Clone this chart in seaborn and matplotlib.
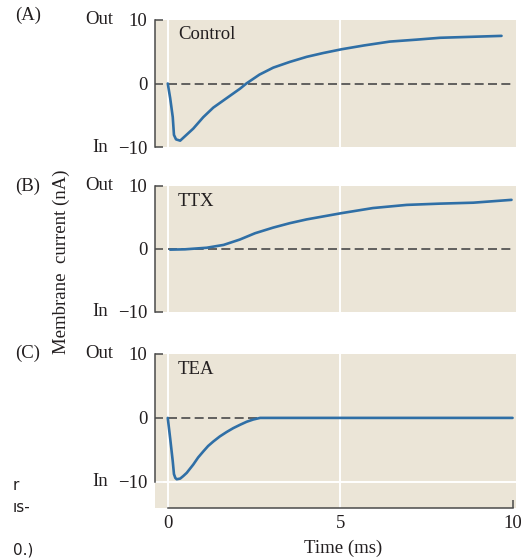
import matplotlib
matplotlib.use("Agg")
import matplotlib.pyplot as plt
import seaborn as sns
import pandas as pd

# ---- data ----
control_t = [0.0, 0.07, 0.145, 0.18, 0.24, 0.36, 0.50, 0.74, 1.03, 1.32, 1.71, 2.10, 2.28,
             2.66, 3.06, 3.54, 4.03, 4.51, 5.05, 5.7, 6.44, 7.2, 7.9, 8.8, 9.68]
control_v = [0.0, -2.3, -5.3, -8.1, -8.8, -9.0, -8.3, -7.1, -5.3, -3.8, -2.3, -0.8, 0.0,
             1.4, 2.5, 3.4, 4.2, 4.8, 5.4, 6.0, 6.6, 6.9, 7.2, 7.35, 7.5]

ttx_t = [0.07, 0.5, 1.13, 1.62, 2.09, 2.53, 3.06, 3.54, 4.03, 5.05, 5.95, 6.93, 7.89, 8.86, 9.97]
ttx_v = [-0.1, -0.05, 0.2, 0.65, 1.5, 2.5, 3.4, 4.1, 4.7, 5.7, 6.5, 7.0, 7.2, 7.35, 7.8]

tea_t = [0.0, 0.07, 0.145, 0.18, 0.22, 0.26, 0.36, 0.45, 0.55, 0.74, 0.88, 1.03, 1.17, 1.32,
         1.51, 1.71, 1.90, 2.10, 2.29, 2.48, 2.68, 4.0, 6.0, 8.0, 10.0]
tea_v = [0.0, -3.2, -6.8, -8.8, -9.4, -9.6, -9.5, -9.1, -8.6, -7.3, -6.2, -5.25, -4.4, -3.7,
         -2.9, -2.2, -1.6, -1.07, -0.6, -0.25, 0.0, 0.0, 0.0, 0.0, 0.0]

panel_labels = ["(A)", "(B)", "(C)"]
panel_names = ["Control", "TTX", "TEA"]
y_ticks = [10, 0, -10]
y_tick_labels = ["10", "0", "\u221210"]
x_ticks = [0, 5, 10]
x_tick_labels = ["0", "5", "10"]

# ---- style ----
sns.set_style("white")
plt.rcParams["font.family"] = ["Liberation Serif", "DejaVu Serif"]
BG = "#ebe5d7"
BLUE = "#2f6fa6"
INK = "#231f20"
SPINE = "#4a4a4a"
FS = 13.5

W, H = 521, 558
fig = plt.figure(figsize=(W / 100, H / 100), dpi=100)

def px_rect(left, top, right, bottom):
    return [left / W, 1 - bottom / H, (right - left) / W, (bottom - top) / H]

rects = [px_rect(155, 20, 516, 147), px_rect(155, 186, 516, 312), px_rect(155, 354, 516, 508)]
ylims = [(-10, 10), (-10, 10), (-14.1, 10)]
series = [(control_t, control_v), (ttx_t, ttx_v), (tea_t, tea_v)]
label_y = [15, 186, 353]
name_y = [0.882, 0.875, 0.90]

for i in range(3):
    ax = fig.add_axes(rects[i])
    ax.set_facecolor(BG)
    ax.set_xlim(-0.37, 10.1)
    ax.set_ylim(*ylims[i])
    for xv in [0, 5]:
        ax.axvline(xv, color="white", lw=1.4, zorder=1)
    if i == 2:
        ax.axhline(-10, color="white", lw=1.4, zorder=1)
    ax.plot([0, 10], [0, 0], color=SPINE, lw=1.2, dashes=(5.4, 2.6), zorder=2)
    t, v = series[i]
    df = pd.DataFrame({"t": t, "v": v})
    sns.lineplot(data=df, x="t", y="v", ax=ax, color=BLUE, lw=1.9, zorder=3, sort=False)
    ax.set_xlabel("")
    ax.set_ylabel("")

    for s in ["top", "right"]:
        ax.spines[s].set_visible(False)
    ax.spines["left"].set_bounds(-10, 10)
    ax.spines["left"].set_color(SPINE)
    ax.spines["left"].set_linewidth(1.1)
    ax.set_yticks(y_ticks)
    ax.set_yticklabels(y_tick_labels)
    ax.tick_params(axis="y", direction="in", length=5.8, width=1.1, color=SPINE,
                   labelsize=FS, labelcolor=INK, pad=5.5, left=True)
    if i == 2:
        ax.spines["bottom"].set_bounds(0, 10)
        ax.spines["bottom"].set_color(SPINE)
        ax.spines["bottom"].set_linewidth(1.1)
        ax.set_xticks(x_ticks)
        ax.set_xticklabels(x_tick_labels)
        ax.tick_params(axis="x", direction="in", length=5.6, width=1.1, color=SPINE,
                       labelsize=FS, labelcolor=INK, pad=5.0, bottom=True)
    else:
        ax.spines["bottom"].set_visible(False)
        ax.set_xticks([])

    ax.text(0.064, name_y[i], panel_names[i], transform=ax.transAxes, fontsize=FS,
            color=INK, ha="left", va="center")

    fig.text(28 / W, 1 - label_y[i] / H, panel_labels[i], fontsize=FS, color=INK,
             ha="center", va="center")
    ax.text(-0.115, 10, "Out", transform=ax.get_yaxis_transform(), fontsize=FS,
            color=INK, ha="right", va="center")
    ax.text(-0.131, -10, "In", transform=ax.get_yaxis_transform(), fontsize=FS,
            color=INK, ha="right", va="center")

fig.text(61 / W, 1 - 262 / H, "Membrane  current (nA)", rotation=90, fontsize=FS,
         color=INK, ha="center", va="center")
fig.text(343 / W, 1 - 548 / H, "Time (ms)", fontsize=FS, color=INK,
         ha="center", va="center")

# cropped page fragments at left edge
for s, yy in [("r", 486), ("\u0131s-", 507), ("0.)", 550)]:
    fig.text(13 / W, 1 - yy / H, s, fontsize=11, color=INK, ha="left", va="center",
             family=["DejaVu Sans"])

fig.savefig("out.png", dpi=100, facecolor="white")
